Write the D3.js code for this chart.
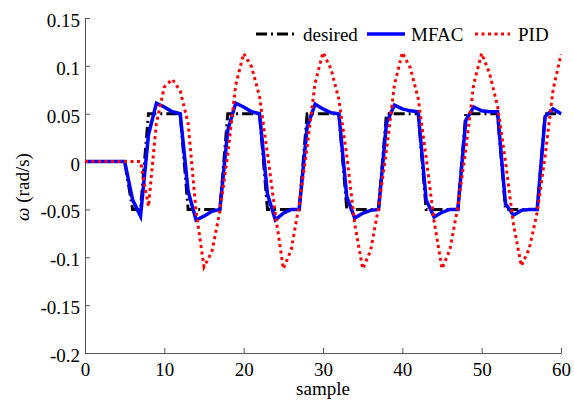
<!DOCTYPE html>
<html>
<head>
<meta charset="utf-8">
<script src="https://cdn.jsdelivr.net/npm/d3@7/dist/d3.min.js"></script>
<style>
  html, body { margin: 0; padding: 0; background: #fff; }
  svg { display: block; }
  svg text { font-family: "Liberation Serif", "Times New Roman", Tinos, "DejaVu Serif", serif !important; fill: #000; }
</style>
</head>
<body>
<svg id="chart" width="574" height="401"></svg>
<script>
// ---- data ----
const samples = d3.range(0, 61);
const desired = [
  0, 0, 0, 0, 0, 0, -0.05, -0.05, 0.05, 0.05,
  0.05, 0.05, 0.05, -0.05, -0.05, -0.05, -0.05, -0.05, 0.05, 0.05,
  0.05, 0.05, 0.05, -0.05, -0.05, -0.05, -0.05, -0.05, 0.05, 0.05,
  0.05, 0.05, 0.05, -0.05, -0.05, -0.05, -0.05, -0.05, 0.05, 0.05,
  0.05, 0.05, 0.05, -0.05, -0.05, -0.05, -0.05, -0.05, 0.05, 0.05,
  0.05, 0.05, 0.05, -0.05, -0.05, -0.05, -0.05, -0.05, 0.05, 0.05,
  0.05
];
const mfac = [
  0, 0, 0, 0, 0, 0, -0.040, -0.057, 0.028, 0.061,
  0.057, 0.052, 0.050, -0.031, -0.061, -0.057, -0.052, -0.050, 0.033, 0.061,
  0.057, 0.052, 0.050, -0.034, -0.061, -0.054, -0.050, -0.050, 0.036, 0.060,
  0.055, 0.051, 0.050, -0.037, -0.059, -0.054, -0.051, -0.050, 0.040, 0.059,
  0.055, 0.053, 0.052, -0.040, -0.058, -0.053, -0.050, -0.050, 0.043, 0.057,
  0.053, 0.052, 0.052, -0.044, -0.056, -0.051, -0.050, -0.050, 0.047, 0.055,
  0.050
];
const pid = [
  0, 0, 0, 0, 0, 0, 0, 0, -0.047, 0.040,
  0.078, 0.086, 0.074, 0.040, -0.052, -0.110, -0.094, -0.052, 0.008, 0.080,
  0.113, 0.099, 0.068, 0.008, -0.055, -0.112, -0.092, -0.045, 0.015, 0.082,
  0.114, 0.097, 0.065, 0.006, -0.065, -0.112, -0.093, -0.048, 0.012, 0.080,
  0.114, 0.098, 0.066, 0.004, -0.062, -0.112, -0.092, -0.047, 0.013, 0.081,
  0.113, 0.092, 0.058, 0.000, -0.065, -0.109, -0.091, -0.053, 0.006, 0.075,
  0.112
];
const xTicks = [0, 10, 20, 30, 40, 50, 60];
const yTicks = [0.15, 0.1, 0.05, 0, -0.05, -0.1, -0.15, -0.2];
const legendLabels = ["desired", "MFAC", "PID"];
const xLabel = "sample";

// ---- layout ----
const FONT = "'Liberation Serif', 'Times New Roman', Tinos, 'DejaVu Serif', serif";
const svg = d3.select("#chart");
const L = 85, R = 561, T = 18, B = 353;
const x = d3.scaleLinear().domain([0, 60]).range([L, R]);
const y = d3.scaleLinear().domain([-0.2, 0.15]).range([B, T]);
const axisColor = "#555";
const fontSize = 19;

const fmt = d => String(+d.toFixed(2));

// axes
const gx = svg.append("g").attr("transform", `translate(0,${B})`)
  .call(d3.axisBottom(x).tickValues(xTicks).tickSizeInner(-5).tickSizeOuter(0).tickPadding(0).tickFormat(fmt));
const gy = svg.append("g").attr("transform", `translate(${L},0)`)
  .call(d3.axisLeft(y).tickValues(yTicks).tickSizeInner(-5).tickSizeOuter(0).tickPadding(5).tickFormat(fmt));
[gx, gy].forEach(g => {
  g.attr("font-family", FONT);
  g.select(".domain").attr("stroke", axisColor).attr("stroke-width", 1);
  g.selectAll(".tick line").attr("stroke", axisColor).attr("stroke-width", 1);
  g.selectAll(".tick text").attr("font-family", FONT).attr("font-size", fontSize).attr("fill", "#000");
});
gx.selectAll(".tick text").attr("y", 23).attr("dy", null);
gy.selectAll(".tick text").attr("dy", null).attr("y", 8.5);

// axis labels
svg.append("text").attr("x", (L + R) / 2).attr("y", 395).attr("text-anchor", "middle")
  .attr("font-family", FONT).attr("font-size", fontSize).text(xLabel);
const yl = svg.append("text").attr("transform", `translate(29,187) rotate(-90)`)
  .attr("text-anchor", "middle").attr("font-family", FONT).attr("font-size", fontSize);
yl.append("tspan").attr("font-style", "italic").text("ω");
yl.append("tspan").text(" (rad/s)");

// series
const series = [
  { name: legendLabels[0], values: desired, color: "#000", width: 3, dash: "11,4,2,4" },
  { name: legendLabels[1], values: mfac, color: "#0000ff", width: 3.5, dash: null },
  { name: legendLabels[2], values: pid, color: "#ff0000", width: 3, dash: "3,3.5" }
];
const line = d3.line().x((d, i) => x(samples[i])).y(d => y(d));
series.forEach(s => {
  svg.append("path").datum(s.values)
    .attr("d", line).attr("fill", "none")
    .attr("stroke", s.color).attr("stroke-width", s.width)
    .attr("stroke-linejoin", "miter")
    .attr("stroke-dasharray", s.dash);
});

// legend
const legY = 34;
const legItems = [
  { x1: 256, x2: 294, tx: 303 },
  { x1: 367, x2: 405, tx: 411 },
  { x1: 475, x2: 510, tx: 518 }
];
series.forEach((s, i) => {
  const it = legItems[i];
  svg.append("line").attr("x1", it.x1).attr("x2", it.x2).attr("y1", legY).attr("y2", legY)
    .attr("stroke", s.color).attr("stroke-width", s.width).attr("stroke-dasharray", s.dash);
  svg.append("text").attr("x", it.tx).attr("y", legY + 7).attr("font-family", FONT)
    .attr("font-size", fontSize).text(s.name);
});
</script>
</body>
</html>
